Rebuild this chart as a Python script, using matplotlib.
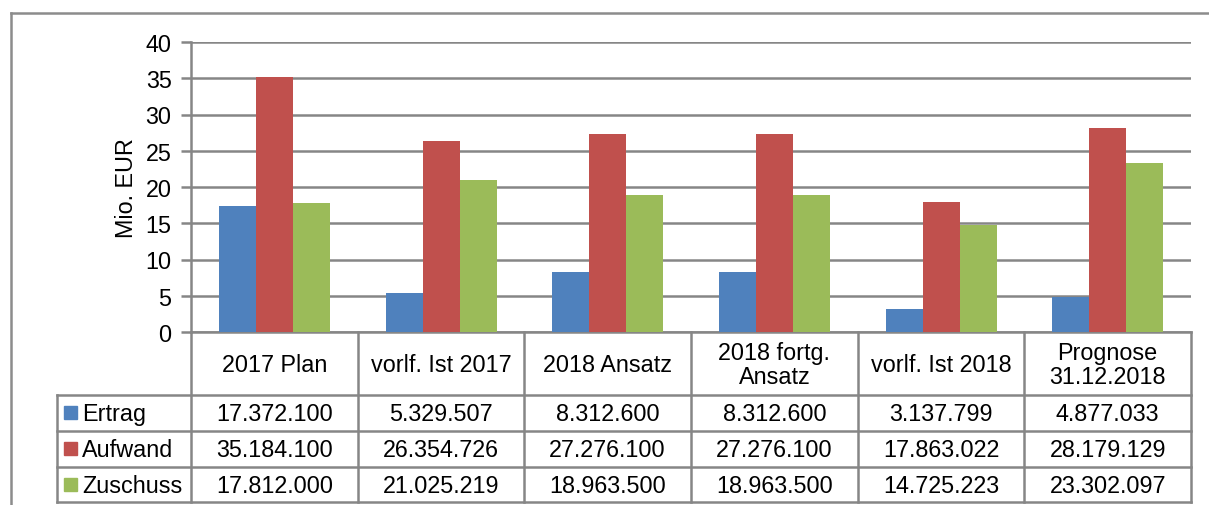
import matplotlib.pyplot as plt
import numpy as np

plt.rcParams['font.family'] = ['Liberation Sans', 'DejaVu Sans']

categories = ["2017 Plan", "vorlf. Ist 2017", "2018 Ansatz", "2018 fortg.\nAnsatz",
              "vorlf. Ist 2018", "Prognose\n31.12.2018"]
series_names = ["Ertrag", "Aufwand", "Zuschuss"]
ertrag = [17372100, 5329507, 8312600, 8312600, 3137799, 4877033]
aufwand = [35184100, 26354726, 27276100, 27276100, 17863022, 28179129]
zuschuss = [17812000, 21025219, 18963500, 18963500, 14725223, 23302097]
colors = ["#4F81BD", "#C0504D", "#9BBB59"]
yticks = [0, 5, 10, 15, 20, 25, 30, 35, 40]

W, H = 1209, 506
fig = plt.figure(figsize=(W / 100, H / 100), dpi=100)
grid_c = "#868686"
fs = 16.8

# pixel layout
ax_l, ax_r, ax_t, ax_b = 191, 1191, 43, 333
row_lines = [396, 431.5, 467.5, 503]
lab_l = 57

ax = fig.add_axes([ax_l / W, 1 - ax_b / H, (ax_r - ax_l) / W, (ax_b - ax_t) / H])
x = np.arange(len(categories))
bw = 0.222
for i, vals in enumerate([ertrag, aufwand, zuschuss]):
    ax.bar(x + (i - 1) * bw, np.array(vals) / 1e6, width=bw, color=colors[i], zorder=3)
ax.set_xlim(-0.5, len(categories) - 0.5)
ax.set_ylim(0, 40)
ax.set_yticks(yticks)
ax.set_yticklabels([str(t) for t in yticks], fontsize=fs)
ax.set_xticks([])
ax.yaxis.grid(True, color=grid_c, linewidth=1.8, zorder=0)
for s in ["top", "right"]:
    ax.spines[s].set_visible(False)
for s in ["left", "bottom"]:
    ax.spines[s].set_color(grid_c)
    ax.spines[s].set_linewidth(1.8)
ax.tick_params(axis="y", length=7, width=1.8, color=grid_c, pad=7)
ax.set_ylabel("Mio. EUR", fontsize=fs, labelpad=5)

# overlay in pixel coordinates for the data table and frame
ov = fig.add_axes([0, 0, 1, 1])
ov.set_xlim(0, W)
ov.set_ylim(H, 0)
ov.axis("off")
ov.patch.set_alpha(0)

lw = 1.8
# outer frame
ov.plot([11, W], [14, 14], color="#8c8c8c", lw=lw)
ov.plot([11, 11], [14, H], color="#8c8c8c", lw=lw)

n = len(categories)
colw = (ax_r - ax_l) / n
col_edges = [ax_l + k * colw for k in range(n + 1)]
for xe in col_edges:
    ov.plot([xe, xe], [ax_b, row_lines[-1]], color=grid_c, lw=lw)
ov.plot([lab_l, lab_l], [row_lines[0], row_lines[-1]], color=grid_c, lw=lw)
for yl in row_lines:
    ov.plot([lab_l, ax_r], [yl, yl], color=grid_c, lw=lw)

for k, cat in enumerate(categories):
    cx = (col_edges[k] + col_edges[k + 1]) / 2
    ov.text(cx, (ax_b + row_lines[0]) / 2 + 1, cat, ha="center", va="center",
            fontsize=fs, linespacing=1.05)

all_vals = [ertrag, aufwand, zuschuss]
for r, name in enumerate(series_names):
    y0, y1 = row_lines[r], row_lines[r + 1]
    cy = (y0 + y1) / 2
    ov.add_patch(plt.Rectangle((64, cy - 6.5), 13, 13, color=colors[r]))
    ov.text(82, cy + 1, name, ha="left", va="center", fontsize=fs)
    for k, v in enumerate(all_vals[r]):
        cx = (col_edges[k] + col_edges[k + 1]) / 2
        ov.text(cx, cy + 1, f"{v:,}".replace(",", "."), ha="center", va="center", fontsize=fs)

fig.savefig("out.png", dpi=100)
